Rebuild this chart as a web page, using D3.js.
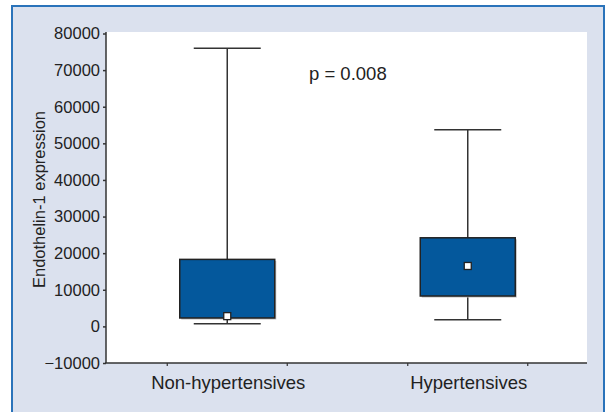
<!DOCTYPE html>
<html>
<head>
<meta charset="utf-8">
<script src="https://cdn.jsdelivr.net/npm/d3@7"></script>
<style>
  body { margin: 0; background: #fff; }
  svg { display: block; font-family: "Liberation Sans", Arial, sans-serif; }
</style>
</head>
<body>
<script>
// box plot summary
var groups = ["Non-hypertensives", "Hypertensives"];
var whiskerLow = [700, 1800];
var q1 = [2300, 8300];
var median = [2800, 16500];
var q3 = [18300, 24200];
var whiskerHigh = [76000, 53700];
var yTicks = [-10000, 0, 10000, 20000, 30000, 40000, 50000, 60000, 70000, 80000];
var pLabel = "p = 0.008";
var yTitle = "Endothelin-1 expression";

var width = 607, height = 412;
var plot = {left: 106, right: 587, top: 32, bottom: 363};
var boxFill = "#04589c", ink = "#333";

var svg = d3.select("body").append("svg")
    .attr("width", width)
    .attr("height", height);

// panel
svg.append("rect")
    .attr("x", 12).attr("y", 6)
    .attr("width", 592).attr("height", 420)
    .attr("fill", "#dbe1ee")
    .attr("stroke", "#2a73ba")
    .attr("stroke-width", 2);

svg.append("rect")
    .attr("x", plot.left).attr("y", plot.top)
    .attr("width", plot.right - plot.left).attr("height", plot.bottom - plot.top)
    .attr("fill", "#fff");

var y = d3.scaleLinear()
    .domain([-10000, 80000])
    .range([plot.bottom, 33.5]);

var x = d3.scaleBand()
    .domain(groups)
    .range([plot.left + 1, plot.right + 1]);

// y axis
var yAxis = svg.append("g")
    .attr("transform", `translate(${plot.left},0)`)
    .call(d3.axisLeft(y).tickValues(yTicks).tickSize(3).tickPadding(3)
        .tickFormat(d => d < 0 ? "\u2212" + Math.abs(d) : d));
yAxis.select(".domain").attr("d", `M0,${plot.top}V${plot.bottom}`);
yAxis.selectAll("path, line").attr("stroke", ink).attr("stroke-width", 1.5);
yAxis.selectAll("text")
    .attr("font-size", 16.5)
    .attr("font-family", "Liberation Sans, Arial, sans-serif")
    .attr("fill", "#222");

// x axis: small ticks at +-60 around each group
var xAxis = svg.append("g");
xAxis.append("line")
    .attr("x1", plot.left - 1).attr("x2", plot.right)
    .attr("y1", plot.bottom).attr("y2", plot.bottom)
    .attr("stroke", ink).attr("stroke-width", 1.5);
xAxis.selectAll(".tk")
    .data(groups.flatMap(g => [x(g) + x.bandwidth() / 2 - 60, x(g) + x.bandwidth() / 2 + 60]))
    .join("line")
    .attr("x1", d => d).attr("x2", d => d)
    .attr("y1", plot.bottom).attr("y2", plot.bottom + 3)
    .attr("stroke", ink).attr("stroke-width", 1.2);
xAxis.selectAll("text")
    .data(groups)
    .join("text")
    .attr("x", d => x(d) + x.bandwidth() / 2 + 1)
    .attr("y", 389)
    .attr("text-anchor", "middle")
    .attr("font-size", 18.5)
    .attr("fill", "#222")
    .text(d => d);

// y title
svg.append("text")
    .attr("transform", `translate(45,${(plot.top + plot.bottom) / 2 + 2}) rotate(-90)`)
    .attr("text-anchor", "middle")
    .attr("font-size", 16.5)
    .attr("fill", "#222")
    .text(yTitle);

// boxes
var boxW = 95, capW = 67, mk = 7;
var g = svg.append("g")
  .selectAll("g")
  .data(groups)
  .join("g")
    .attr("transform", d => `translate(${x(d) + x.bandwidth() / 2},0)`);

g.append("line")
    .attr("y1", (d, i) => y(whiskerHigh[i]))
    .attr("y2", (d, i) => y(whiskerLow[i]))
    .attr("stroke", ink).attr("stroke-width", 1.5);
g.selectAll(".cap")
  .data((d, i) => [whiskerHigh[i], whiskerLow[i]])
  .join("line")
    .attr("x1", -capW / 2).attr("x2", capW / 2)
    .attr("y1", v => y(v)).attr("y2", v => y(v))
    .attr("stroke", ink).attr("stroke-width", 1.5);
// faint shadow
g.append("rect")
    .attr("x", -boxW / 2 + 1.5)
    .attr("y", (d, i) => y(q3[i]) + 1.5)
    .attr("width", boxW)
    .attr("height", (d, i) => y(q1[i]) - y(q3[i]))
    .attr("fill", "#bbb");
g.append("rect")
    .attr("x", -boxW / 2)
    .attr("y", (d, i) => y(q3[i]))
    .attr("width", boxW)
    .attr("height", (d, i) => y(q1[i]) - y(q3[i]))
    .attr("fill", boxFill)
    .attr("stroke", "#222").attr("stroke-width", 1.5);
g.append("rect")
    .attr("x", -mk / 2)
    .attr("y", (d, i) => y(median[i]) - mk / 2)
    .attr("width", mk).attr("height", mk)
    .attr("fill", "#fff")
    .attr("stroke", "#222").attr("stroke-width", 1.3);

// p value
svg.append("text")
    .attr("x", 309).attr("y", 80)
    .attr("font-size", 18.5)
    .attr("fill", "#222")
    .text(pLabel);
</script>
</body>
</html>
